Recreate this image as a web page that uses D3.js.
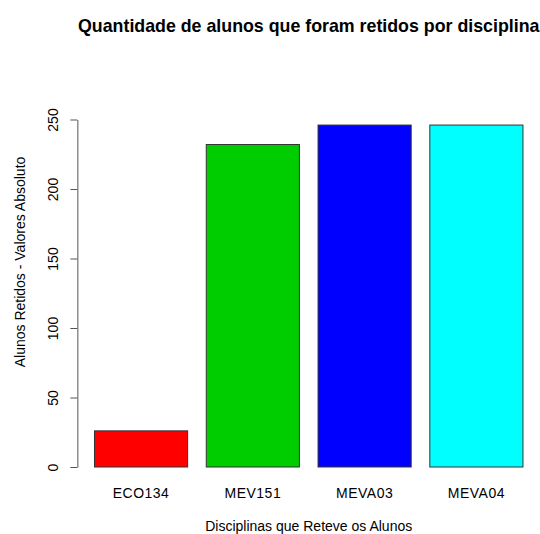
<!DOCTYPE html>
<html>
<head>
<meta charset="utf-8">
<script src="https://cdn.jsdelivr.net/npm/d3@7"></script>
<style>
  html, body { margin: 0; padding: 0; background: #ffffff; }
  svg { display: block; }
  text { font-family: "Liberation Sans", Arial, Helvetica, sans-serif; fill: #000; }
</style>
</head>
<body>
<script>
const categories = ["ECO134", "MEV151", "MEVA03", "MEVA04"];
const values = [26, 232, 246, 246];
const barColors = ["#FF0000", "#00CD00", "#0000FF", "#00FFFF"];
const yTicks = [0, 50, 100, 150, 200, 250];
const titleText = "Quantidade de alunos que foram retidos por disciplina";
const xTitle = "Disciplinas que Reteve os Alunos";
const yTitle = "Alunos Retidos - Valores Absoluto";

const W = 540, H = 534;
const svg = d3.select("body").append("svg").attr("width", W).attr("height", H);
svg.append("rect").attr("width", W).attr("height", H).attr("fill", "#fff");

const plotLeft = 77.35, plotRight = 540.1;
const x = d3.scaleBand().domain(categories)
  .range([plotLeft, plotRight]).paddingInner(1 / 6).paddingOuter(0.1533);
const y = d3.scaleLinear().domain([0, 250]).range([467, 119.5]);

// bars
svg.append("g").selectAll("rect").data(categories).join("rect")
  .attr("x", d => x(d))
  .attr("y", (d, i) => y(values[i]))
  .attr("width", x.bandwidth())
  .attr("height", (d, i) => y(0) - y(values[i]))
  .attr("fill", (d, i) => barColors[i])
  .attr("stroke", "#333")
  .attr("stroke-width", 1);

// y axis
const yAxis = svg.append("g").attr("transform", `translate(${plotLeft},0)`)
  .call(d3.axisLeft(y).tickValues(yTicks).tickSize(7).tickSizeOuter(0).tickFormat(d3.format("d")));
yAxis.select(".domain").attr("stroke", "#555");
yAxis.selectAll(".tick line").attr("stroke", "#555");
yAxis.selectAll(".tick text")
  .attr("x", null).attr("dy", null)
  .attr("transform", "translate(-19,0) rotate(-90)")
  .attr("text-anchor", "middle")
  .attr("font-size", 14)
  .attr("font-family", "Liberation Sans, Arial, sans-serif")
  .attr("fill", "#000");

// x labels
svg.append("g").selectAll("text").data(categories).join("text")
  .attr("x", d => x(d) + x.bandwidth() / 2)
  .attr("y", 498)
  .attr("text-anchor", "middle")
  .attr("font-size", 14)
  .attr("letter-spacing", 0.5)
  .text(d => d);

// titles
const cx = (plotLeft + plotRight) / 2;
svg.append("text").attr("x", cx).attr("y", 32)
  .attr("text-anchor", "middle").attr("font-size", 17.8).attr("font-weight", "bold")
  .text(titleText);
svg.append("text").attr("x", cx).attr("y", 531)
  .attr("text-anchor", "middle").attr("font-size", 14)
  .text(xTitle);
svg.append("text").attr("transform", "translate(25,262) rotate(-90)")
  .attr("text-anchor", "middle").attr("font-size", 14)
  .text(yTitle);
</script>
</body>
</html>
